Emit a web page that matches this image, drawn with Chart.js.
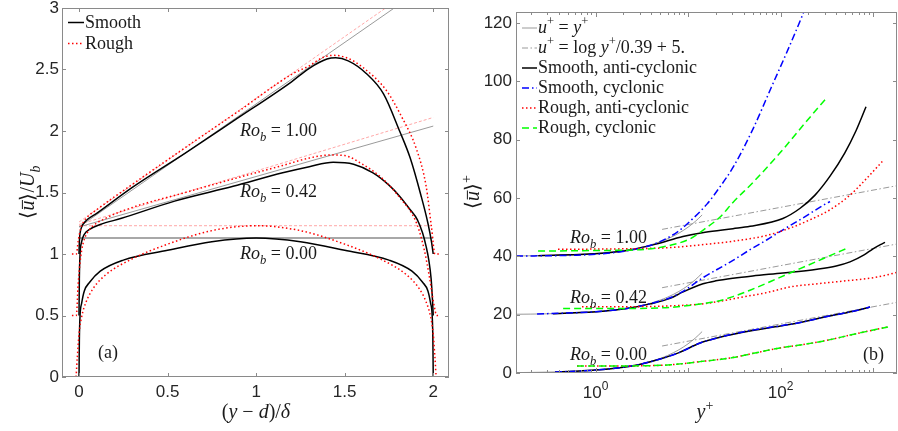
<!DOCTYPE html>
<html>
<head>
<meta charset="utf-8">
<script src="https://cdn.jsdelivr.net/npm/chart.js@4.4.1/dist/chart.umd.min.js"></script>
<style>
html, body { margin: 0; padding: 0; background: #fff; }
#wrap { position: relative; width: 898px; height: 431px; overflow: hidden; }
#left { position: absolute; left: 0; top: 0; }
#right { position: absolute; left: 450px; top: 0; }
</style>
</head>
<body>
<div id="wrap">
  <canvas id="left" width="450" height="431" style="width:450px;height:431px"></canvas>
  <canvas id="right" width="448" height="431" style="width:448px;height:431px"></canvas>
</div>
<script>
// ---- panel (a): x = (y-d)/delta, u = <u>/U_b (Ro 0.42 shifted +0.5, Ro 1.00 shifted +1) ----
var aX0s = [0, 0.002, 0.006, 0.015, 0.03, 0.06, 0.12, 0.25, 0.5, 0.75, 1.0, 1.25, 1.5, 1.75, 1.88, 1.94, 1.97, 1.985, 1.994, 1.998, 2.0];
var aU0s = [0, 0.3, 0.5, 0.6, 0.7, 0.77, 0.86, 0.95, 1.03, 1.1, 1.13, 1.1, 1.03, 0.95, 0.86, 0.77, 0.7, 0.6, 0.5, 0.3, 0];
var aX0r = [-0.04, -0.018, -0.01, 0.0, 0.015, 0.04, 0.08, 0.15, 0.3, 0.5, 0.75, 1.0, 1.25, 1.5, 1.7, 1.85, 1.92, 1.96, 1.985, 2.0, 2.01, 2.018, 2.04];
var aU0r = [0, 0, 0.15, 0.35, 0.49, 0.61, 0.72, 0.83, 0.96, 1.08, 1.19, 1.23, 1.19, 1.08, 0.96, 0.83, 0.72, 0.61, 0.49, 0.35, 0.15, 0, 0];
var aX042s = [0, 0.002, 0.006, 0.015, 0.03, 0.06, 0.12, 0.24, 0.54, 0.87, 1.15, 1.3, 1.435, 1.55, 1.66, 1.75, 1.81, 1.87, 1.91, 1.94, 1.96, 1.975, 1.988, 1.996, 2.0];
var aU042s = [0.5, 0.8, 1.0, 1.1, 1.16, 1.2, 1.24, 1.29, 1.43, 1.55, 1.66, 1.71, 1.746, 1.73, 1.66, 1.56, 1.47, 1.36, 1.28, 1.17, 1.06, 0.95, 0.8, 0.62, 0.5];
var aX042r = [-0.04, -0.015, -0.005, 0.005, 0.015, 0.03, 0.06, 0.15, 0.305, 0.6, 0.87, 1.15, 1.3, 1.42, 1.5, 1.6, 1.7, 1.81, 1.906, 1.95, 1.98, 2.005, 2.02, 2.04];
var aU042r = [0.5, 0.5, 0.75, 0.92, 1.03, 1.12, 1.2, 1.29, 1.38, 1.5, 1.61, 1.72, 1.78, 1.805, 1.8, 1.73, 1.63, 1.46, 1.25, 1.03, 0.8, 0.58, 0.5, 0.5];
var aX1s = [0, 0.002, 0.006, 0.015, 0.04, 0.1, 0.305, 0.6, 0.87, 1.2, 1.3, 1.4, 1.45, 1.52, 1.62, 1.72, 1.81, 1.87, 1.93, 1.97, 1.99, 2.0];
var aU1s = [1.0, 1.1, 1.17, 1.22, 1.27, 1.33, 1.545, 1.82, 2.08, 2.4, 2.51, 2.585, 2.595, 2.57, 2.47, 2.3, 2.0, 1.78, 1.48, 1.25, 1.1, 1.0];
var aX1r = [-0.04, -0.015, -0.005, 0.005, 0.015, 0.04, 0.1, 0.3, 0.6, 0.9, 1.2, 1.3, 1.38, 1.44, 1.52, 1.6, 1.735, 1.82, 1.906, 1.96, 1.99, 2.01, 2.04];
var aU1r = [1.0, 1.0, 1.1, 1.18, 1.23, 1.29, 1.36, 1.565, 1.865, 2.16, 2.46, 2.53, 2.6, 2.615, 2.59, 2.52, 2.33, 2.12, 1.85, 1.55, 1.22, 1.0, 1.0];
var aRefX = [0, 2];
var aGrayFlat = [1.13, 1.13];
var aPinkFlat = [1.23, 1.23];
var aGray1 = [1.22, 3.22];
var aPink1 = [1.26, 3.27];
var aGray042 = [1.22, 2.04];
var aPink042 = [1.24, 2.11];
var aXTicks = [0, 0.5, 1, 1.5, 2];
var aYTicks = [0, 0.5, 1, 1.5, 2, 2.5, 3];

// ---- panel (b): x = y+, u = <u>+ (Ro 0.42 shifted +20, Ro 1.00 shifted +40) ----
var bLinX = [0.138, 0.2, 0.3, 0.5, 0.7, 1, 1.5, 2, 3, 4, 5, 6, 8, 10, 12, 14.2];
var bLin0 = [0.138, 0.2, 0.3, 0.5, 0.7, 1, 1.5, 2, 3, 4, 5, 6, 8, 10, 12, 14.2];
var bLin042 = [20.138, 20.2, 20.3, 20.5, 20.7, 21, 21.5, 22, 23, 24, 25, 26, 28, 30, 32, 34.2];
var bLin1 = [40.138, 40.2, 40.3, 40.5, 40.7, 41, 41.5, 42, 43, 44, 45, 46, 48, 50, 52, 54.2];
var bLogX = [5.24, 1817];
var bLog0 = [9.25, 24.24];
var bLog042 = [29.25, 44.24];
var bLog1 = [49.25, 64.24];

var bX0s = [0.365, 0.6, 1, 2, 3, 5, 8, 13.5, 20, 30, 50, 100, 163, 300, 500, 700, 929];
var bU0s = [0.36, 0.6, 1, 2, 2.95, 4.8, 7.0, 10.3, 11.9, 13.2, 14.6, 16.1, 17.3, 19.2, 20.6, 21.6, 22.6];
var bU0c = [0.36, 0.6, 1, 2, 2.95, 4.8, 7.0, 10.3, 11.9, 13.3, 14.7, 16.2, 17.3, 19.2, 20.6, 21.6, 22.6];
var bX0r = [0.631, 1.2, 3.7, 6.4, 13.5, 30.6, 46.8, 98.8, 163, 318, 564, 929, 1452];
var bU0r = [2.4, 2.4, 2.5, 2.8, 3.9, 5.3, 6.5, 8.6, 9.6, 11.2, 13.0, 14.5, 15.8];

var bX042s = [0.347, 1.2, 2.36, 3.9, 6.4, 8.83, 14.5, 20, 30.6, 50, 106, 248, 400, 564, 800, 1000, 1200, 1348];
var bU042s = [20.35, 21.2, 22.3, 23.7, 25.6, 27.8, 30.6, 31.6, 32.5, 33.3, 34.3, 35.6, 36.7, 38.1, 40.5, 42.6, 44.0, 44.8];
var bX042c = [0.233, 1.2, 2.36, 3.9, 6.4, 8.83, 14.5, 20.6, 30.6, 46.8, 71.4, 98.8, 163, 248, 300, 343];
var bU042c = [20.23, 21.2, 22.3, 23.8, 25.8, 28.0, 32.7, 35.5, 38.6, 42.3, 45.7, 48.5, 52.6, 56.2, 57.8, 58.8];
var bX042ra = [0.714, 1.2, 3.7, 6.4, 15.3, 36.5, 71.4, 127, 250, 440, 1105, 1817];
var bU042ra = [22.7, 22.7, 22.8, 23.0, 23.8, 25.9, 27.6, 29.5, 30.6, 31.4, 32.9, 34.5];
var bX042rc = [0.446, 1.2, 3.7, 6.4, 15.3, 22, 30.6, 46.8, 98.8, 163, 248, 318, 537];
var bU042rc = [22.1, 22.1, 22.2, 22.5, 23.9, 24.8, 26.2, 28.4, 32.8, 35.8, 38.3, 39.8, 42.9];

var bX1s = [0.24, 1.2, 2.36, 4.5, 8.8, 15.3, 30.6, 46.8, 106, 163, 236, 343, 496, 653, 840];
var bU1s = [40.2, 41.1, 42.2, 44.2, 46.8, 48.3, 49.5, 50.3, 53, 56.5, 61, 67.5, 75.5, 83, 91.3];
var bX1c = [0.138, 0.62, 1.2, 2.34, 4.54, 7.77, 10.9, 16.1, 21.2, 31.3, 50.9, 79.6, 117, 174, 200];
var bU1c = [40.1, 40.4, 40.9, 42.1, 44.5, 48.5, 52.5, 58, 63, 71, 84, 98, 110, 123, 128];
var bX1ra = [0.393, 1.01, 3.43, 6.39, 15.3, 30.6, 71.4, 127, 207, 343, 564, 840, 1282];
var bU1ra = [42.4, 42.5, 42.7, 43.0, 44.1, 45.2, 47.2, 49.7, 52.5, 56.0, 61.0, 66.5, 72.8];
var bX1rc = [0.239, 1.01, 3.43, 6.39, 10.5, 15.3, 22.2, 30.6, 50.9, 98.8, 193, 318];
var bU1rc = [41.8, 42.0, 42.4, 43.8, 46.0, 49.5, 53.5, 58.5, 65.5, 75.5, 86.5, 94.5];

var bYTicks = [0, 20, 40, 60, 80, 100, 120];
var bXLabels = [[1, '0'], [100, '2']];
var roLabels = ['1.00', '0.42', '0.00'];

// ---- styles ----
var SANS = '"Liberation Sans", Arial, sans-serif';
var SERIF = '"Liberation Serif", "Times New Roman", serif';
var STY = {
    black: ['#000000', 1.5, []],
    blue: ['#0000ff', 1.5, [7, 3, 1.5, 3]],
    red: ['#ff0000', 1.5, [1.5, 2.5]],
    green: ['#00ff00', 1.5, [7, 4]],
    grayS: ['#808080', 0.8, []],
    grayDD: ['#808080', 0.8, [6, 2.5, 1.5, 2.5]],
    grayFlat: ['#a8a8a8', 2, []],
    pink: ['rgba(255,60,60,0.45)', 1, [3, 2]]
};
var AXIS = '#8a8a8a';
var TXT = '#1a1a1a';

function mk(xs, ys, sty, smooth) {
    return {
        data: xs.map(function (x, i) { return { x: x, y: ys[i] }; }),
        borderColor: sty[0],
        borderWidth: sty[1],
        borderDash: sty[2],
        pointRadius: 0,
        fill: false,
        tension: 0,
        cubicInterpolationMode: smooth === false ? 'default' : 'monotone'
    };
}

// rich text: parts = [[text, flags]] flags: i italic, s subscript, p superscript, b overbar
function rich(ctx, parts, x, y, size, align) {
    var w = 0;
    var items = parts.map(function (p) {
        var f = p[1] || '';
        var sz = (f.indexOf('s') >= 0 || f.indexOf('p') >= 0) ? size * 0.7 : size;
        var font = (f.indexOf('i') >= 0 ? 'italic ' : '') + sz + 'px ' + SERIF;
        ctx.font = font;
        var pw = ctx.measureText(p[0]).width;
        var it = { t: p[0], f: f, font: font, pw: pw, x: w };
        w += pw;
        return it;
    });
    var x0 = align === 'center' ? x - w / 2 : (align === 'right' ? x - w : x);
    ctx.textAlign = 'left';
    ctx.textBaseline = 'alphabetic';
    items.forEach(function (it) {
        ctx.font = it.font;
        var dy = it.f.indexOf('s') >= 0 ? size * 0.28 : (it.f.indexOf('p') >= 0 ? -size * 0.42 : 0);
        ctx.fillText(it.t, x0 + it.x, y + dy);
        if (it.f.indexOf('b') >= 0) {
            ctx.save();
            ctx.lineWidth = 1;
            ctx.strokeStyle = ctx.fillStyle;
            ctx.beginPath();
            ctx.moveTo(x0 + it.x + 1.5, y - size * 0.58);
            ctx.lineTo(x0 + it.x + it.pw + 0.5, y - size * 0.58);
            ctx.stroke();
            ctx.restore();
        }
    });
}

function frame(ctx, a) {
    ctx.strokeStyle = AXIS;
    ctx.lineWidth = 1;
    ctx.setLineDash([]);
    ctx.strokeRect(a.left + 0.5, a.top + 0.5, a.right - a.left - 1, a.bottom - a.top - 1);
}
function vTick(ctx, px, a, len) {
    var p = Math.round(px) + 0.5;
    ctx.beginPath();
    ctx.moveTo(p, a.bottom); ctx.lineTo(p, a.bottom - len);
    ctx.moveTo(p, a.top); ctx.lineTo(p, a.top + len);
    ctx.stroke();
}
function hTick(ctx, py, a, len) {
    var p = Math.round(py) + 0.5;
    ctx.beginPath();
    ctx.moveTo(a.left, p); ctx.lineTo(a.left + len, p);
    ctx.moveTo(a.right, p); ctx.lineTo(a.right - len, p);
    ctx.stroke();
}
function sample(ctx, x1, x2, y, sty) {
    ctx.save();
    ctx.strokeStyle = sty[0];
    ctx.lineWidth = sty[1];
    ctx.setLineDash(sty[2]);
    ctx.beginPath();
    ctx.moveTo(x1, y); ctx.lineTo(x2, y);
    ctx.stroke();
    ctx.restore();
}
function zeroPad(s) {
    s.paddingTop = 0; s.paddingBottom = 0; s.paddingLeft = 0; s.paddingRight = 0;
}

// ---- panel (a) ----
var panelA = {
    id: 'panelA',
    afterDraw: function (chart) {
        var ctx = chart.ctx, a = chart.chartArea, x = chart.scales.x, y = chart.scales.y;
        ctx.save();
        frame(ctx, a);
        aXTicks.forEach(function (v) { vTick(ctx, x.getPixelForValue(v), a, 4); });
        aYTicks.forEach(function (v) { hTick(ctx, y.getPixelForValue(v), a, 4); });
        ctx.fillStyle = TXT;
        // legend
        sample(ctx, 68, 84, 22.5, STY.black);
        rich(ctx, [['Smooth', '']], 85, 28, 18, 'left');
        sample(ctx, 68, 84, 43.5, STY.red);
        rich(ctx, [['Rough', '']], 85, 49, 18, 'left');
        // Ro labels
        var base = [136, 197, 259];
        roLabels.forEach(function (r, i) {
            rich(ctx, [['Ro', 'i'], ['b', 'is'], [' = ' + r, '']], 240, base[i], 18, 'left');
        });
        rich(ctx, [['(a)', '']], 98, 358, 18, 'left');
        // axis titles
        rich(ctx, [['(', ''], ['y', 'i'], [' \u2212 ', ''], ['d', 'i'], [')/', ''], ['\u03b4', 'i']], 256, 418, 20, 'center');
        ctx.save();
        ctx.translate(34, 192);
        ctx.rotate(-Math.PI / 2);
        rich(ctx, [['\u27e8', ''], ['u', 'ib'], ['\u27e9/', ''], ['U', 'i'], ['b', 'is']], 0, 0, 20, 'center');
        ctx.restore();
        ctx.restore();
    }
};

var aSets = [
    mk(aRefX, aGrayFlat, STY.grayFlat, false),
    mk(aRefX, aPinkFlat, STY.pink, false),
    mk(aRefX, aGray1, STY.grayS, false),
    mk(aRefX, aPink1, STY.pink, false),
    mk(aRefX, aGray042, STY.grayS, false),
    mk(aRefX, aPink042, STY.pink, false),
    mk(aX0s, aU0s, STY.black),
    mk(aX042s, aU042s, STY.black),
    mk(aX1s, aU1s, STY.black),
    mk(aX0r, aU0r, STY.red),
    mk(aX042r, aU042r, STY.red),
    mk(aX1r, aU1r, STY.red)
].reverse();

new Chart(document.getElementById('left'), {
    type: 'line',
    data: { datasets: aSets },
    options: {
        responsive: false,
        animation: false,
        devicePixelRatio: 1,
        events: [],
        layout: { padding: { left: 0, right: 1, top: 8, bottom: 0 } },
        plugins: { legend: { display: false }, tooltip: { enabled: false } },
        scales: {
            x: {
                type: 'linear', min: -0.096, max: 2.089, bounds: 'data',
                grid: { display: false, drawTicks: false }, border: { display: false },
                afterBuildTicks: function (s) { s.ticks = aXTicks.map(function (v) { return { value: v }; }); },
                afterFit: function (s) { s.height = 54; zeroPad(s); },
                ticks: {
                    padding: 5, autoSkip: false, maxRotation: 0, color: '#262626',
                    font: { family: SANS, size: 17 },
                    callback: function (v) { return String(v); }
                }
            },
            y: {
                type: 'linear', min: 0, max: 3, bounds: 'data',
                grid: { display: false, drawTicks: false }, border: { display: false },
                afterBuildTicks: function (s) { s.ticks = aYTicks.map(function (v) { return { value: v }; }); },
                afterFit: function (s) { s.width = 62; zeroPad(s); },
                ticks: {
                    padding: 3, autoSkip: false, color: '#262626',
                    font: { family: SANS, size: 17 },
                    callback: function (v) { return String(v); }
                }
            }
        }
    },
    plugins: [panelA]
});

// ---- panel (b) ----
var legendB = [
    [STY.grayS, [['u', 'i'], ['+', 'p'], [' = ', ''], ['y', 'i'], ['+', 'p']]],
    [STY.grayDD, [['u', 'i'], ['+', 'p'], [' = log ', ''], ['y', 'i'], ['+', 'p'], ['/0.39 + 5.', '']]],
    [STY.black, [['Smooth, anti-cyclonic', '']]],
    [STY.blue, [['Smooth, cyclonic', '']]],
    [STY.red, [['Rough, anti-cyclonic', '']]],
    [STY.green, [['Rough, cyclonic', '']]]
];

var panelB = {
    id: 'panelB',
    afterDraw: function (chart) {
        var ctx = chart.ctx, a = chart.chartArea, x = chart.scales.x, y = chart.scales.y;
        ctx.save();
        frame(ctx, a);
        for (var e = -1; e <= 3; e++) {
            for (var k = 1; k <= 9; k++) {
                var v = k * Math.pow(10, e);
                if (v < x.min || v > x.max) continue;
                vTick(ctx, x.getPixelForValue(v), a, k === 1 ? 5 : 3);
            }
        }
        bYTicks.forEach(function (v) { hTick(ctx, y.getPixelForValue(v), a, 4); });
        // log x labels
        ctx.fillStyle = '#262626';
        bXLabels.forEach(function (l) {
            var px = x.getPixelForValue(l[0]);
            ctx.font = '17px ' + SANS;
            var w1 = ctx.measureText('10').width;
            ctx.font = '12px ' + SANS;
            var w2 = ctx.measureText(l[1]).width;
            var x0 = px - (w1 + w2) / 2;
            ctx.textAlign = 'left';
            ctx.textBaseline = 'alphabetic';
            ctx.font = '17px ' + SANS;
            ctx.fillText('10', x0, 398);
            ctx.font = '12px ' + SANS;
            ctx.fillText(l[1], x0 + w1, 390);
        });
        ctx.fillStyle = TXT;
        legendB.forEach(function (row, i) {
            var b = 33 + 20 * i;
            sample(ctx, 72, 87, b - 5, row[0]);
            rich(ctx, row[1], 88, b, 18, 'left');
        });
        var base = [243, 303, 360];
        roLabels.forEach(function (r, i) {
            rich(ctx, [['Ro', 'i'], ['b', 'is'], [' = ' + r, '']], 120, base[i], 18, 'left');
        });
        rich(ctx, [['(b)', '']], 413, 360, 18, 'left');
        rich(ctx, [['y', 'i'], ['+', 'p']], 255, 418, 20, 'center');
        ctx.save();
        ctx.translate(29, 192);
        ctx.rotate(-Math.PI / 2);
        rich(ctx, [['\u27e8', ''], ['u', 'ib'], ['\u27e9', ''], ['+', 'p']], 0, 0, 20, 'center');
        ctx.restore();
        ctx.restore();
    }
};

var bSets = [
    mk(bLinX, bLin0, STY.grayS),
    mk(bLinX, bLin042, STY.grayS),
    mk(bLinX, bLin1, STY.grayS),
    mk(bLogX, bLog0, STY.grayDD, false),
    mk(bLogX, bLog042, STY.grayDD, false),
    mk(bLogX, bLog1, STY.grayDD, false),
    mk(bX0s, bU0s, STY.black),
    mk(bX042s, bU042s, STY.black),
    mk(bX1s, bU1s, STY.black),
    mk(bX0s, bU0c, STY.blue),
    mk(bX042c, bU042c, STY.blue),
    mk(bX1c, bU1c, STY.blue),
    mk(bX0r, bU0r, STY.red),
    mk(bX042ra, bU042ra, STY.red),
    mk(bX1ra, bU1ra, STY.red),
    mk(bX0r, bU0r, STY.green),
    mk(bX042rc, bU042rc, STY.green),
    mk(bX1rc, bU1rc, STY.green)
].reverse();

new Chart(document.getElementById('right'), {
    type: 'line',
    data: { datasets: bSets },
    options: {
        responsive: false,
        animation: false,
        devicePixelRatio: 1,
        events: [],
        layout: { padding: { left: 0, right: 1, top: 12, bottom: 0 } },
        plugins: { legend: { display: false }, tooltip: { enabled: false } },
        scales: {
            x: {
                type: 'logarithmic', min: 0.138, max: 1817, bounds: 'data',
                grid: { display: false, drawTicks: false }, border: { display: false },
                afterFit: function (s) { s.height = 58; zeroPad(s); },
                ticks: { display: false }
            },
            y: {
                type: 'linear', min: 0, max: 123.8, bounds: 'data',
                grid: { display: false, drawTicks: false }, border: { display: false },
                afterBuildTicks: function (s) { s.ticks = bYTicks.map(function (v) { return { value: v }; }); },
                afterFit: function (s) { s.width = 66; zeroPad(s); },
                ticks: {
                    padding: 4, autoSkip: false, color: '#262626',
                    font: { family: SANS, size: 17 },
                    callback: function (v) { return String(v); }
                }
            }
        }
    },
    plugins: [panelB]
});
</script>
</body>
</html>
